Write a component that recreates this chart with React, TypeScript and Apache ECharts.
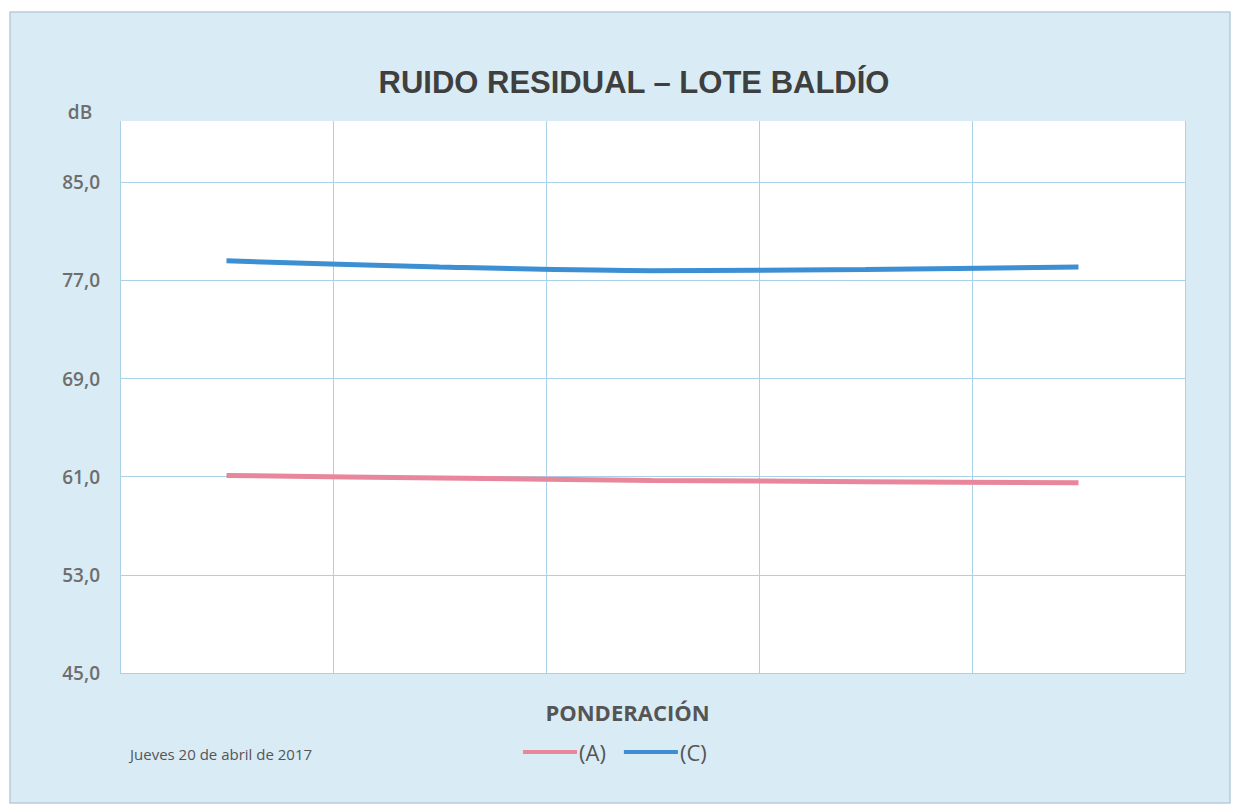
import React, { useEffect, useRef } from "react";
import * as echarts from "echarts";

const categories = ["1", "2", "3", "4", "5"];
const seriesNames = ["(A)", "(C)"];
const valuesA = [61.1, 60.9, 60.7, 60.6, 60.5];
const valuesC = [78.6, 78.1, 77.8, 77.9, 78.1];
const yMin = 45;
const yMax = 90;
const yStep = 8;
const titleText = "RUIDO RESIDUAL – LOTE BALDÍO";
const yUnit = "dB";
const xName = "PONDERACIÓN";
const dateText = "Jueves 20 de abril de 2017";

export default function App() {
  const ref = useRef<HTMLDivElement>(null);
  useEffect(() => {
    document.body.style.margin = "0";
    const chart = echarts.init(ref.current!, undefined, { renderer: "svg" });
    const grid = "#a9d1e8";
    chart.setOption({
      animation: false,
      backgroundColor: "#ffffff",
      title: {
        text: titleText,
        left: 629,
        textAlign: "center",
        top: 62,
        textStyle: {
          fontFamily: "Liberation Sans, Arial, sans-serif",
          fontWeight: "bold",
          fontSize: 31,
          color: "#3f3f3f",
        },
      },
      graphic: [
        {
          type: "rect",
          z: -10,
          shape: { x: 10, y: 12, width: 1220, height: 791 },
          style: { fill: "#d9ecf5", stroke: "#b9ccd6", lineWidth: 1.5 },
        },
        {
          type: "text",
          x: 80,
          y: 112,
          style: {
            text: yUnit,
            fontFamily: "Open Sans, sans-serif",
            fontSize: 19,
            fontWeight: 600,
            fill: "#6e6e6e",
            align: "center",
            verticalAlign: "middle",
          },
        },
        {
          type: "text",
          x: 130,
          y: 754,
          style: {
            text: dateText,
            fontFamily: "Open Sans, sans-serif",
            fontSize: 15,
            fill: "#555555",
            align: "left",
            verticalAlign: "middle",
          },
        },
      ],
      legend: {
        data: seriesNames,
        left: 518,
        top: 736,
        icon: "rect",
        itemWidth: 54,
        itemHeight: 4,
        itemGap: 18,
        textStyle: {
          fontFamily: "Open Sans, sans-serif",
          fontSize: 22,
          color: "#555555",
          padding: [0, 0, 0, -3],
        },
      },
      grid: {
        left: 120,
        top: 121,
        right: 54,
        bottom: 139,
        show: true,
        backgroundColor: "#ffffff",
        borderWidth: 0,
      },
      xAxis: {
        type: "category",
        data: categories,
        boundaryGap: true,
        name: xName,
        nameLocation: "middle",
        nameGap: 28,
        nameTextStyle: {
          fontFamily: "Open Sans, sans-serif",
          fontWeight: "bold",
          fontSize: 22,
          color: "#555555",
          padding: [0, 50, 0, 0],
        },
        axisLine: { show: false },
        axisTick: { show: false },
        axisLabel: { show: false },
        splitLine: { show: true, lineStyle: { color: grid, width: 1 } },
      },
      yAxis: {
        type: "value",
        min: yMin,
        max: yMax,
        interval: yStep,
        axisLine: { show: false },
        axisTick: { show: false },
        axisLabel: {
          margin: 20,
          fontFamily: "Open Sans, sans-serif",
          fontWeight: 600,
          fontSize: 19,
          color: "#6e6e6e",
          formatter: (v: number) => (v === yMax ? "" : v.toFixed(1).replace(".", ",")),
        },
        splitLine: {
          show: true,
          lineStyle: {
            color: [grid, grid, grid, grid, grid, grid, "rgba(0,0,0,0)"],
            width: 1,
          },
        },
      },
      series: [
        {
          name: seriesNames[0],
          type: "line",
          data: valuesA,
          smooth: 0.3,
          symbol: "none",
          lineStyle: { color: "#e8879c", width: 5 },
          itemStyle: { color: "#e8879c" },
        },
        {
          name: seriesNames[1],
          type: "line",
          data: valuesC,
          smooth: 0.3,
          symbol: "none",
          lineStyle: { color: "#3d8fd4", width: 5 },
          itemStyle: { color: "#3d8fd4" },
        },
      ],
    });
    return () => chart.dispose();
  }, []);
  return <div ref={ref} style={{ width: 1239, height: 812 }} />;
}
